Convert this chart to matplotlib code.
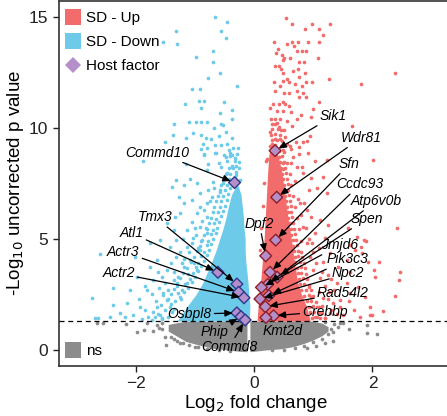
import numpy as np
import matplotlib.pyplot as plt
from matplotlib.lines import Line2D

plt.rcParams['font.family'] = ['Liberation Sans', 'DejaVu Sans']

c_up = '#F26C6C'
c_down = '#6DCBE9'
c_ns = '#8C8C8C'
c_host = '#B48FC9'

# packed parts of the clouds (outline)
down_core_y = [1.3, 2.0, 2.5, 3.0, 3.5, 4.0, 4.5, 5.0, 5.5, 6.0, 6.5, 7.0, 7.4]
down_core_left = [-1.30, -1.12, -0.98, -0.87, -0.79, -0.71, -0.64, -0.58, -0.52, -0.47, -0.43, -0.38, -0.30]
down_core_right = [-0.08, -0.07, -0.09, -0.10, -0.12, -0.14, -0.15, -0.15, -0.17, -0.18, -0.20, -0.22, -0.27]

up_core_y = [1.3, 2.0, 2.5, 3.0, 4.0, 5.0, 6.0, 7.0, 8.0, 8.8, 9.3]
up_core_left = [0.05, 0.07, 0.09, 0.11, 0.14, 0.17, 0.19, 0.21, 0.23, 0.25, 0.30]
up_core_right = [0.95, 0.88, 0.80, 0.74, 0.68, 0.63, 0.57, 0.52, 0.47, 0.40, 0.33]

ns_left_x = [-1.45, -1.15, -0.90, -0.70, -0.45, -0.25, -0.12]
ns_left_top = [1.15, 1.3, 1.3, 1.3, 1.3, 1.3, 1.3]
ns_left_bottom = [0.85, 0.38, 0.20, 0.08, 0.0, -0.06, -0.08]
ns_right_x = [-0.07, 0.0, 0.2, 0.45, 0.66, 0.85, 1.0, 1.15, 1.25]
ns_right_top = [1.3, 1.3, 1.3, 1.3, 1.3, 1.3, 1.3, 1.2, 1.05]
ns_right_bottom = [-0.08, -0.06, 0.0, 0.05, 0.15, 0.3, 0.45, 0.65, 0.85]

# scattered genes, outer region
down_x = [-0.66, -0.46, -1.32, -0.56, -1.53, -1.30, -0.47, -0.70, -0.98, -0.69, -0.57, -0.78, -0.28,
          -1.04, -0.91, -0.93, -0.84, -1.16, -0.51, -0.89, -0.57, -0.37, -0.37, -1.10, -0.98, -0.90,
          -0.79, -0.56, -0.52, -1.36, -0.68, -0.48, -1.37, -1.15, -1.03, -0.89, -0.81, -0.73, -0.59,
          -0.38, -1.50, -0.86, -0.66, -0.55, -0.45, -0.89, -0.79, -0.43, -0.41, -0.48, -0.64, -0.84,
          -1.88, -1.15, -0.77, -0.60, -0.37, -0.31, -0.40,
          -0.84, -0.66, -1.31, -1.39, -1.08, -1.18, -0.97, -0.91, -0.77, -0.69, -0.57, -0.52, -0.46,
          -0.55, -0.38, -0.32, -0.80, -1.26, -1.05, -1.18, -0.91, -0.80, -0.71, -0.97, -1.25, -1.33,
          -1.05, -0.80, -1.47, -1.36, -1.14, -0.91, -0.80, -1.31, -1.59, -1.76, -1.03, -1.42, -1.14,
          -0.91, -2.60, -2.01, -1.64, -1.31, -1.08, -1.76, -1.47, -1.19, -0.97, -1.98, -1.70, -1.36,
          -1.14, -2.38, -2.09, -1.81, -1.53, -1.25, -2.74, -2.38, -2.15, -1.93, -1.64, -1.42, -2.69,
          -2.43, -2.04, -1.79, -1.59, -2.26, -2.63, -2.18, -1.73,
          -1.65, -1.72, -1.60, -1.55, -1.50, -1.45, -1.62, -1.40, -1.35, -1.28, -1.22, -1.25, -1.18,
          -1.10, -1.05, -0.98, -0.95, -1.20, -1.00, -0.88, -0.85, -0.75, -0.68, -1.70, -1.85, -1.95,
          -1.85, -1.55, -1.68, -1.90, -1.45, -1.30, -1.12, -1.02, -0.90, -0.82]
down_y = [14.99, 14.77, 14.37, 14.37, 13.87, 13.78, 14.07, 13.47, 13.18, 12.97, 12.49, 12.27, 11.88,
          11.77, 11.77, 11.20, 11.20, 11.08, 11.19, 10.89, 10.69, 10.80, 10.39, 10.28, 10.28, 10.28,
          10.28, 10.18, 10.12, 10.18, 9.99, 9.81, 9.68, 9.56, 9.77, 9.68, 9.53, 9.52, 9.62,
          9.56, 9.38, 9.28, 9.22, 9.25, 9.28, 9.07, 9.08, 9.01, 8.86, 8.71, 8.87, 8.77,
          8.50, 8.38, 8.39, 8.42, 8.30, 8.29, 8.74,
          8.83, 8.86, 7.66, 7.36, 7.69, 7.43, 7.51, 7.06, 7.21, 7.58, 7.13, 7.51, 7.96,
          8.26, 8.26, 8.63, 8.11, 6.91, 6.76, 6.61, 6.46, 6.61, 6.91, 6.16, 6.16, 6.00,
          5.78, 6.00, 5.71, 5.41, 5.41, 5.56, 5.26, 4.95, 4.95, 4.80, 5.03, 4.65, 4.65,
          4.50, 4.31, 4.20, 4.05, 4.20, 4.05, 3.75, 3.60, 3.75, 3.60, 3.30, 3.15, 3.15,
          3.00, 2.81, 2.70, 2.70, 2.55, 2.40, 2.36, 2.03, 2.10, 1.95, 1.95, 1.95, 1.43,
          1.50, 1.58, 1.50, 1.58, 1.65, 1.43, 1.50, 1.35,
          2.20, 2.50, 2.80, 3.30, 3.00, 2.70, 3.50, 3.90, 3.50, 3.30, 3.90, 4.40, 4.10,
          4.40, 4.80, 5.20, 4.60, 5.00, 5.50, 5.80, 6.30, 6.70, 7.30, 1.70, 1.80, 2.30,
          2.90, 1.40, 1.50, 1.40, 2.30, 2.90, 3.40, 3.90, 4.90, 5.50]

# genes just outside the packed part of the down cloud
down_edge_x = [-1.55, -1.45, -1.62, -1.38, -1.50, -1.36, -1.58, -1.41, -1.47, -1.33, -1.24, -1.53,
               -1.40, -1.28, -1.19, -1.35, -1.22, -1.12, -1.30, -1.17, -1.05, -1.25, -1.09, -0.99,
               -1.20, -1.03, -0.94, -1.13, -0.98, -0.90, -1.07, -0.94, -0.85, -1.01, -0.90, -0.80,
               -0.96, -0.85, -0.76, -0.92, -0.80, -0.72, -0.88, -0.77, -0.69, -0.84, -0.73, -0.65,
               -0.80, -0.70, -0.62, -0.76, -0.67, -0.59, -0.73, -0.64, -0.55, -0.70, -0.61, -0.52,
               -0.67, -0.58, -0.49, -0.64, -0.55, -0.46, -0.61, -0.52, -0.44, -0.58, -0.49, -0.40,
               -0.55, -0.46, -0.36, -0.50, -0.42, -0.33, -0.47, -0.40, -0.30, -0.42, -0.35, -0.26,
               -0.45, -0.33, -0.25, -0.50, -0.38, -0.28, -0.35, -0.27, -0.30, -0.23, -0.25, -0.21]
down_edge_y = [1.45, 1.47, 1.62, 1.72, 1.80, 1.86, 2.02, 2.08, 2.25, 2.22, 2.30, 2.46,
               2.50, 2.55, 2.62, 2.75, 2.72, 2.80, 3.00, 2.95, 3.05, 3.22, 3.20, 3.30,
               3.45, 3.48, 3.55, 3.70, 3.72, 3.78, 3.95, 3.92, 4.02, 4.20, 4.22, 4.28,
               4.45, 4.42, 4.50, 4.70, 4.72, 4.78, 4.95, 4.92, 5.02, 5.20, 5.22, 5.28,
               5.45, 5.42, 5.50, 5.70, 5.72, 5.76, 5.95, 5.92, 6.02, 6.20, 6.22, 6.28,
               6.45, 6.42, 6.50, 6.70, 6.72, 6.76, 6.95, 6.92, 7.02, 7.20, 7.22, 7.28,
               7.45, 7.42, 7.50, 7.70, 7.72, 7.76, 7.95, 7.92, 8.02, 8.20, 8.22, 8.18,
               8.50, 8.52, 8.48, 8.80, 8.78, 8.82, 9.10, 9.12, 7.90, 7.65, 1.80, 2.60]

up_x = [0.535, 0.642, 0.974, 1.289, 0.867, 1.098, 1.166, 0.332, 0.557, 0.647, 0.738, 0.907, 1.098,
        0.670, 0.400, 0.726, 0.816, 0.884, 0.377, 0.473, 0.501, 0.603, 0.490, 0.760, 0.839, 1.076,
        0.355, 0.428, 0.456, 0.664, 0.738, 0.856, 0.490, 2.376, 0.343, 0.484, 0.552, 0.591, 0.760,
        0.873, 0.974, 1.267, 1.813, 0.444, 0.693, 0.816, 0.721, 0.355, 0.828, 0.512, 0.591, 0.765,
        0.873, 1.098, 0.484, 0.428, 0.529, 0.321, 0.596, 1.002, 0.394, 0.495, 0.630, 0.794, 0.963,
        0.282, 0.349, 0.439, 0.726, 0.360, 0.417, 0.461, 0.647, 1.650, 0.941, 0.355, 0.434, 0.709,
        0.833, 0.895, 0.760, 0.630, 0.225, 0.316, 0.484, 0.625, 0.765, 0.917, 1.035, 1.233, 2.015,
        0.282, 0.400, 0.495, 0.721, 0.811, 0.349, 0.495, 0.27, 0.30, 0.52, 0.56, 0.27,
        1.16, 1.24, 0.97, 1.06, 2.42, 1.745, 1.85, 1.62, 1.71, 1.255, 1.57, 1.93, 2.11, 2.47, 2.45,
        2.04, 1.62, 1.255, 1.40, 1.76, 2.38, 1.87, 1.45, 1.17, 1.09, 2.18, 1.68, 1.28, 2.00,
        0.83, 0.92, 0.78, 0.89, 0.97, 1.11, 0.83, 1.03, 1.20, 0.89, 1.09, 1.28, 0.95, 1.17, 1.42,
        1.00, 1.11, 1.57, 0.92, 1.26, 1.62, 0.97, 1.34, 1.14, 1.51, 1.03, 1.79, 1.96,
        1.59, 1.89, 1.81, 1.82, 2.02, 1.96,
        1.10, 1.20, 1.15, 1.05, 1.00, 0.92, 0.88, 0.80, 0.75, 0.70, 1.30, 1.25, 1.40, 1.35, 1.30,
        0.98, 0.85, 1.45, 1.60, 1.20, 0.65, 0.60, 0.50, 0.56]
up_y = [14.97, 14.67, 14.67, 14.67, 14.47, 14.47, 14.17, 13.87, 13.77, 13.87, 13.87, 13.87, 13.87,
        13.68, 13.57, 13.48, 13.48, 13.47, 13.38, 13.27, 13.17, 13.17, 13.06, 12.97, 12.97, 13.17,
        12.78, 12.78, 12.67, 12.58, 12.67, 12.48, 12.48, 12.49, 12.07, 12.13, 12.19, 12.07, 12.28,
        12.07, 12.07, 12.19, 11.98, 11.88, 11.98, 11.88, 11.68, 11.68, 11.58, 11.58, 11.58, 11.38,
        11.38, 11.19, 11.19, 11.10, 11.10, 11.08, 10.98, 10.87, 10.78, 10.78, 10.72, 10.57, 10.48,
        10.39, 10.42, 10.40, 10.40, 10.17, 10.05, 9.92, 10.09, 10.08, 9.65, 9.49, 9.49, 9.37,
        9.37, 9.41, 9.14, 9.07, 8.62, 8.59, 8.44, 8.44, 8.82, 8.89, 8.51, 8.56, 8.56,
        8.32, 8.35, 8.14, 8.23, 8.26, 9.10, 9.01, 9.80, 9.30, 9.60, 9.30, 10.90,
        7.81, 7.06, 7.73, 7.28, 5.48, 5.08, 4.95, 4.73, 4.50, 5.63, 4.05, 3.98, 3.95, 3.50, 3.15,
        3.27, 3.50, 3.38, 3.00, 2.85, 2.43, 2.40, 2.25, 2.33, 1.95, 1.77, 1.80, 1.65, 1.56,
        7.96, 7.21, 6.61, 6.31, 6.01, 5.86, 5.56, 5.26, 5.03, 4.80, 4.58, 4.35, 4.20, 3.98, 3.75,
        3.60, 3.23, 3.00, 2.85, 2.63, 2.55, 2.40, 2.10, 1.65, 1.58, 1.50, 1.50, 1.95,
        5.51, 4.91, 4.65, 4.35, 3.60, 1.58,
        2.60, 2.90, 3.50, 3.90, 4.40, 5.00, 5.50, 6.10, 6.80, 7.60, 1.80, 2.30, 1.60, 2.70, 3.20,
        4.80, 6.60, 1.95, 2.20, 1.45, 8.70, 9.20, 9.90, 10.30]

# genes just outside the packed part of the up cloud
up_edge_x = [0.98, 1.06, 1.12, 1.20, 0.95, 1.02, 1.10, 0.92, 1.00, 1.06, 1.15, 0.90, 0.97, 1.05,
             0.85, 0.93, 1.00, 0.80, 0.88, 0.96, 0.78, 0.85, 0.93, 0.76, 0.83, 0.90, 0.74, 0.80,
             0.88, 0.72, 0.79, 0.86, 0.70, 0.77, 0.84, 0.69, 0.75, 0.81, 0.68, 0.74, 0.80, 0.66,
             0.72, 0.65, 0.71, 0.79, 0.63, 0.69, 0.62, 0.68, 0.76, 0.60, 0.66, 0.58, 0.64, 0.72,
             0.57, 0.63, 0.56, 0.62, 0.69, 0.54, 0.60, 0.53, 0.59, 0.66, 0.52, 0.58, 0.50, 0.57,
             0.63, 0.49, 0.55, 0.48, 0.54, 0.60, 0.46, 0.52, 0.44, 0.50, 0.56, 0.42, 0.48, 0.28,
             0.42, 0.50, 0.27, 0.35, 0.45, 0.30, 0.38, 0.47, 0.29, 0.36, 0.44, 0.31, 0.40, 0.30,
             0.38, 0.15, 0.17, 0.20, 0.12, 0.10]
up_edge_y = [1.45, 1.48, 1.42, 1.46, 1.70, 1.72, 1.68, 1.95, 1.97, 1.93, 1.98, 2.20, 2.22, 2.18,
             2.45, 2.47, 2.43, 2.70, 2.72, 2.68, 2.95, 2.97, 2.93, 3.20, 3.22, 3.18, 3.45, 3.47,
             3.43, 3.70, 3.72, 3.68, 3.95, 3.97, 3.93, 4.20, 4.22, 4.18, 4.45, 4.47, 4.43, 4.70,
             4.72, 4.95, 4.97, 4.93, 5.20, 5.22, 5.45, 5.47, 5.43, 5.70, 5.72, 5.95, 5.97, 5.93,
             6.20, 6.22, 6.45, 6.47, 6.43, 6.70, 6.72, 6.95, 6.97, 6.93, 7.20, 7.22, 7.45, 7.47,
             7.43, 7.70, 7.72, 7.95, 7.97, 7.93, 8.20, 8.22, 8.45, 8.47, 8.43, 8.70, 8.72, 8.95,
             8.97, 8.93, 9.20, 9.22, 9.18, 9.45, 9.47, 9.43, 9.70, 9.72, 9.68, 9.95, 9.97, 10.20,
             10.22, 6.50, 7.50, 8.50, 5.50, 4.50]

ns_x = [-2.66, -1.98, -1.86, -2.16, -1.81, -1.49, 1.34, 1.34, 1.90, 2.07, 1.91, 1.51, 1.11, -1.64,
        -1.55, -1.50, -1.35, -1.25, -1.00, 1.20, 1.05, 0.90, -2.55, 1.60, 1.42, -1.70,
        -1.60, -1.55, -1.40, -1.30, -1.20, -1.10, -0.95, -0.80, -0.60, -0.40, 0.30, 0.50, 0.70,
        0.85, 1.00, 1.15, 1.25, 1.30, 1.35, 1.45, 1.20]
ns_y = [1.20, 0.80, 0.90, 1.17, 1.20, 0.23, 0.83, 0.42, 0.75, 0.71, 1.13, 1.20, 1.13, 1.13,
        0.95, 0.60, 0.50, 0.30, 0.15, 0.30, 0.20, 0.10, 1.20, 0.95, 1.05, 0.85,
        1.00, 1.20, 0.60, 0.40, 0.30, 0.22, 0.12, 0.05, 0.00, -0.05, -0.02, 0.00, 0.08,
        0.20, 0.35, 0.50, 0.70, 0.95, 1.15, 1.20, 1.25]

# host factors
host_names = ['Sik1', 'Wdr81', 'Sfn', 'Dpf2', 'Ccdc93', 'Atp6v0b', 'Spen', 'Jmjd6', 'Pik3c3', 'Npc2',
              'Rad54l2', 'Crebbp', 'Kmt2d', 'Commd10', 'Tmx3', 'Atl1', 'Actr3', 'Actr2', 'Osbpl8',
              'Phip', 'Commd8']
host_x = [0.355, 0.383, 0.366, 0.197, 0.27, 0.23, 0.39, 0.125, 0.25, 0.10, 0.19, 0.33, 0.20,
          -0.33, -0.29, -0.61, -0.26, -0.17, -0.29, -0.22, -0.15]
host_y = [8.98, 6.88, 4.95, 4.24, 3.50, 2.95, 3.28, 2.82, 2.45, 2.30, 1.95, 1.54, 1.46,
          7.54, 2.97, 3.50, 2.60, 2.35, 1.67, 1.50, 1.35]
label_x = [1.34, 1.81, 1.61, 0.09, 1.79, 2.06, 1.90, 1.45, 1.58, 1.59, 1.50, 1.20, 0.485,
           -1.63, -1.67, -2.07, -2.21, -2.29, -1.09, -0.66, -0.42]
label_y = [10.54, 9.56, 8.38, 5.68, 7.46, 6.71, 5.90, 4.73, 4.08, 3.45, 2.55, 1.73, 0.87,
           8.89, 5.98, 5.26, 4.43, 3.45, 1.61, 0.83, 0.12]

fig = plt.figure(figsize=(4.47, 4.16), dpi=100)
ax = fig.add_axes([0.1313, 0.1209, 0.8807, 0.876])

# ns
ax.fill_between(ns_left_x, ns_left_bottom, ns_left_top, color=c_ns, lw=0, zorder=1)
ax.fill_between(ns_right_x, ns_right_bottom, ns_right_top, color=c_ns, lw=0, zorder=1)
ax.scatter(ns_x, ns_y, s=7, color=c_ns, lw=0, zorder=1)

# down / up
ax.fill_betweenx(down_core_y, down_core_left, down_core_right, color=c_down, lw=0, zorder=2)
ax.scatter(down_x + down_edge_x, down_y + down_edge_y, s=7, color=c_down, lw=0, zorder=2)
ax.fill_betweenx(up_core_y, up_core_left, up_core_right, color=c_up, lw=0, zorder=2)
ax.scatter(up_x + up_edge_x, up_y + up_edge_y, s=7, color=c_up, lw=0, zorder=2)

ax.axhline(-np.log10(0.05), color='black', lw=0.9, ls=(0, (4, 3)), zorder=3)

edges = ['#8E1F2A' if x > 0 else '#2C3A8E' for x in host_x]
ax.scatter(host_x, host_y, s=36, marker='D', color=c_host, edgecolors=edges, linewidths=1.0, zorder=5)

for name, hx, hy, tx, ty in zip(host_names, host_x, host_y, label_x, label_y):
    if name == 'Kmt2d':
        ax.text(tx, ty, name, style='italic', fontsize=10, ha='center', va='center', zorder=6)
        continue
    ax.annotate(name, xy=(hx, hy), xytext=(tx, ty), style='italic', fontsize=10,
                ha='center', va='center', zorder=6,
                arrowprops=dict(arrowstyle='-|>,head_length=0.45,head_width=0.2', color='black',
                                lw=0.9, shrinkA=0, shrinkB=3, mutation_scale=10))

ax.set_xlim(-3.30, 3.35)
ax.set_ylim(-0.71, 15.71)
ax.set_xticks([-2, 0, 2])
ax.set_yticks([0, 5, 10, 15])
ax.tick_params(labelsize=12.5, length=4, width=1, colors='#222222')
for sp in ax.spines.values():
    sp.set_linewidth(1.2)
    sp.set_color('#333333')
ax.set_xlabel('Log$_2$ fold change', fontsize=13.5, labelpad=1)
ax.set_ylabel('-Log$_{10}$ uncorrected p value', fontsize=13.5, labelpad=2)

h = [Line2D([], [], ls='None', marker='s', markersize=11.5, markerfacecolor=c_up, markeredgewidth=0),
     Line2D([], [], ls='None', marker='s', markersize=11.5, markerfacecolor=c_down, markeredgewidth=0),
     Line2D([], [], ls='None', marker='D', markersize=8, markerfacecolor=c_host, markeredgewidth=0)]
leg = ax.legend(h, ['SD - Up', 'SD - Down', 'Host factor'], loc='upper left',
                bbox_to_anchor=(0.016, 0.973), frameon=False, fontsize=11, borderpad=0,
                borderaxespad=0, handlelength=1.05, handletextpad=0.3, labelspacing=0.66)
ax.add_artist(leg)
h2 = [Line2D([], [], ls='None', marker='s', markersize=11.5, markerfacecolor=c_ns, markeredgewidth=0)]
ax.legend(h2, ['ns'], loc='lower left', bbox_to_anchor=(0.016, 0.02), frameon=False, fontsize=11,
          borderpad=0, borderaxespad=0, handlelength=1.05, handletextpad=0.3)

fig.savefig('out.png', dpi=100)
